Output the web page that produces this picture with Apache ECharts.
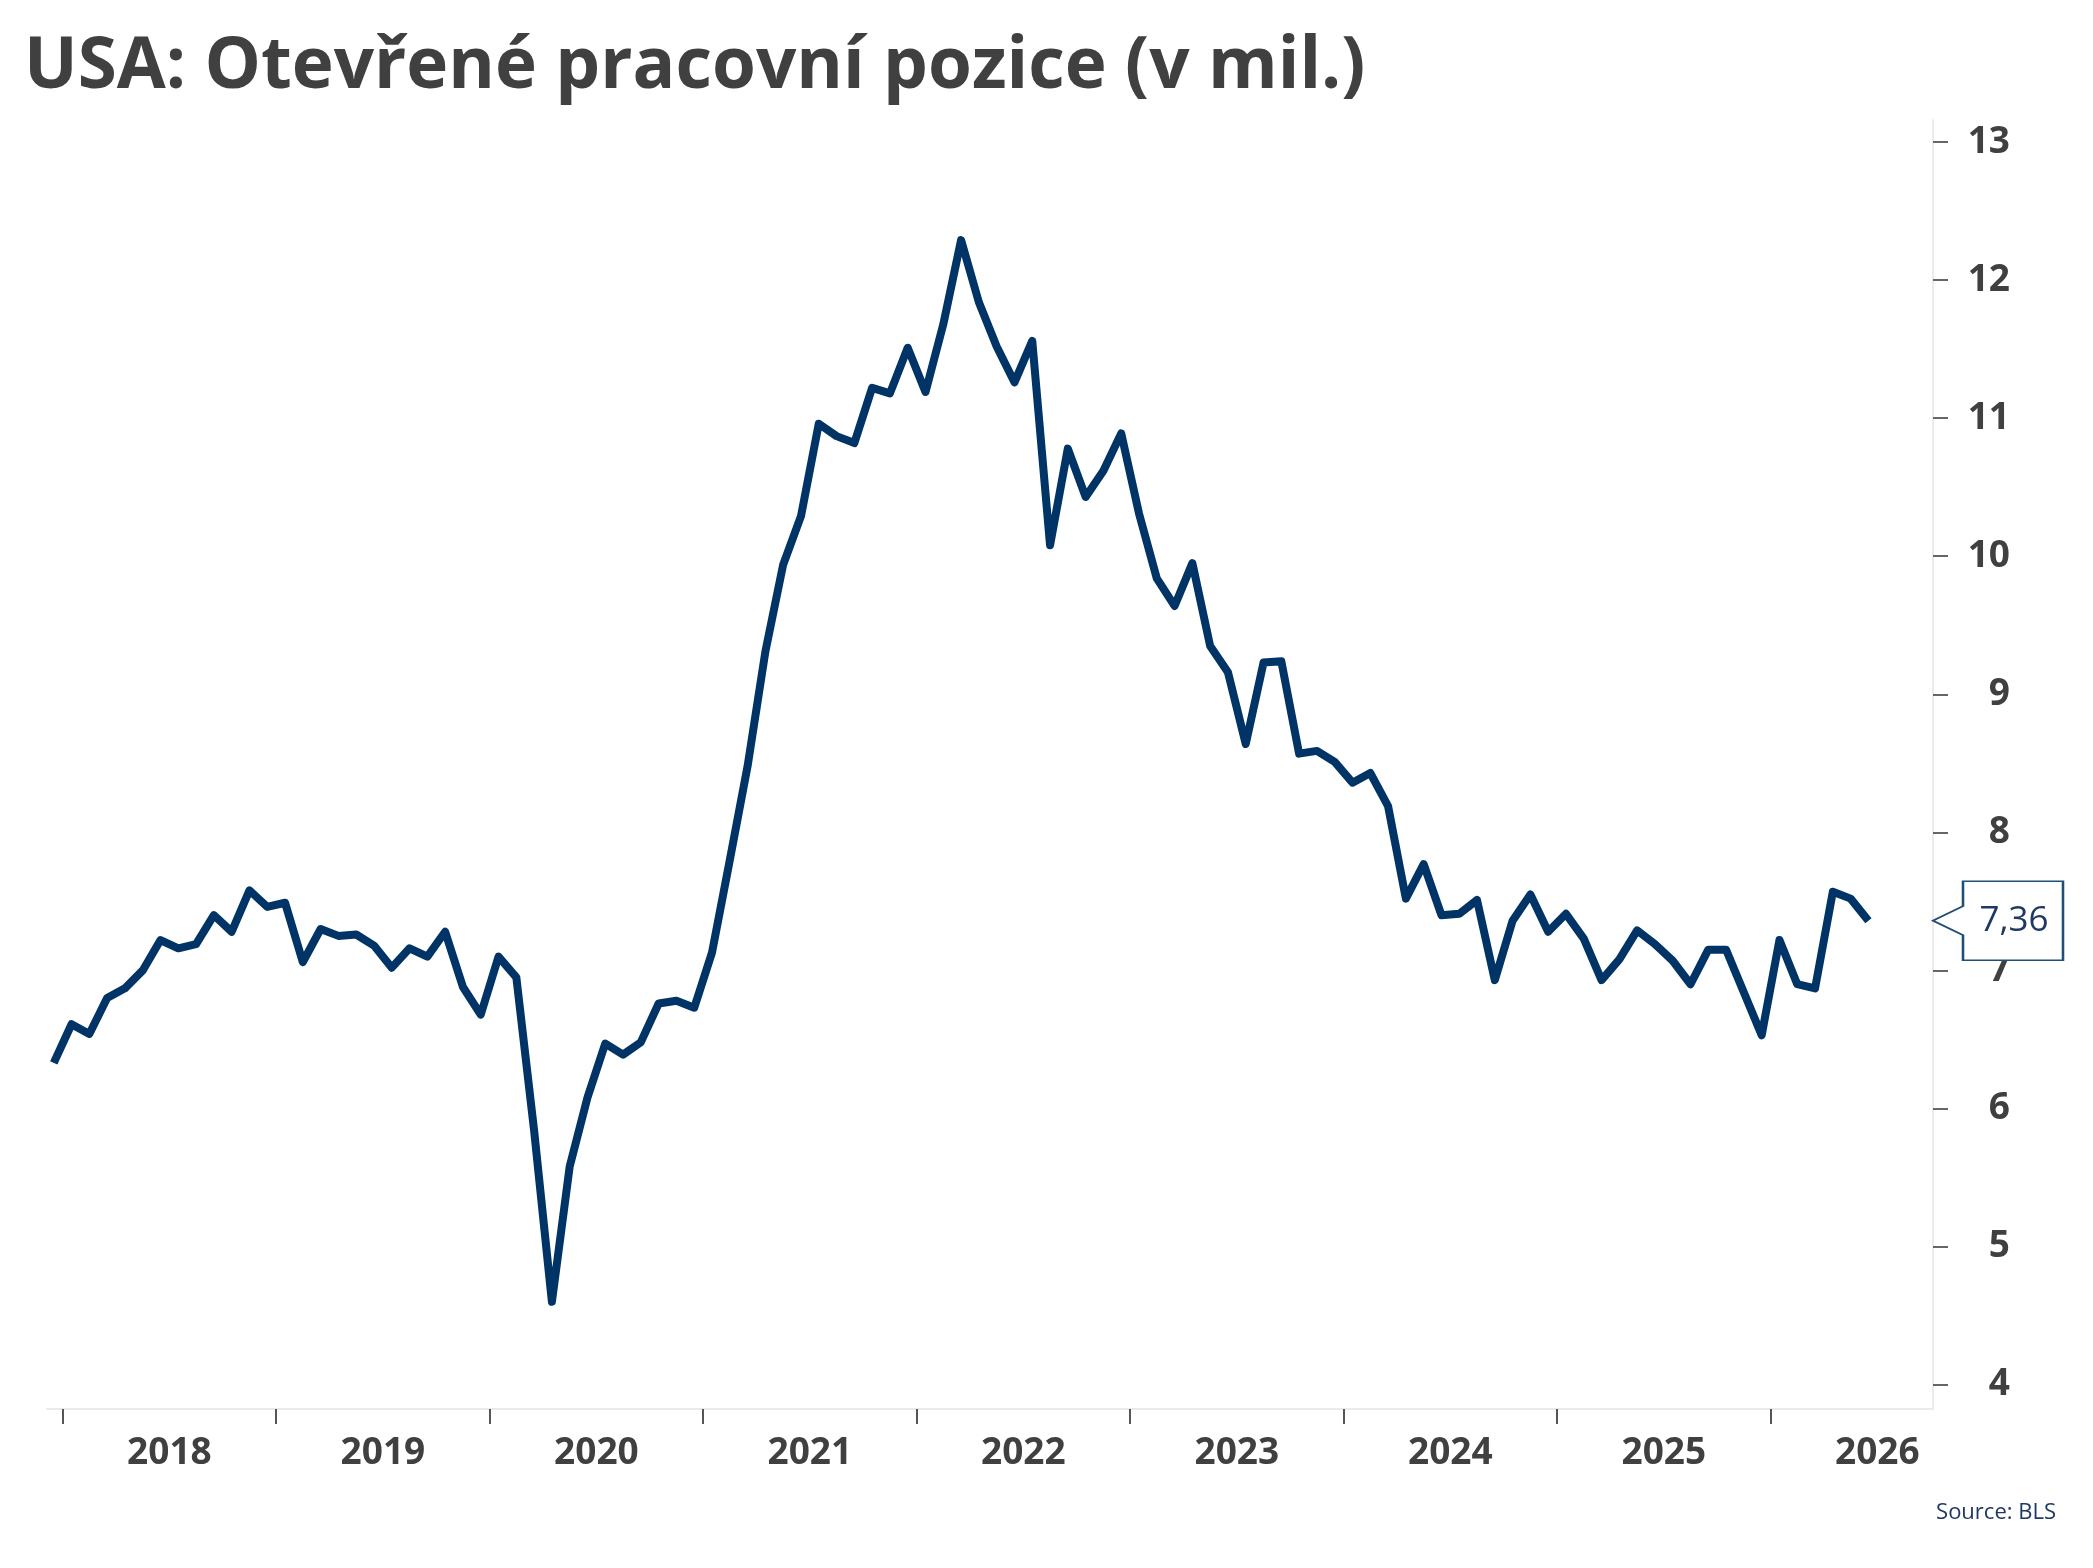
<!DOCTYPE html>
<html>
<head>
<meta charset="utf-8">
<script src="https://cdn.jsdelivr.net/npm/echarts@6/dist/echarts.min.js"></script>
<style>
  html, body { margin: 0; padding: 0; background: #fff; }
  #chart { width: 2093px; height: 1568px; }
</style>
</head>
<body>
<div id="chart"></div>
<script>
// first observation is Dec 2017, one value per month
var firstYear = 2017;
var firstMonth = 12;
var openings = [
  6.33,
  6.61, 6.54, 6.80, 6.87, 7.00, 7.22, 7.16, 7.19, 7.40, 7.28, 7.58, 7.46,
  7.49, 7.06, 7.30, 7.25, 7.26, 7.18, 7.02, 7.16, 7.10, 7.28, 6.88, 6.68,
  7.10, 6.95, 5.84, 4.60, 5.58, 6.08, 6.47, 6.39, 6.48, 6.76, 6.78, 6.73,
  7.13, 7.80, 8.48, 9.31, 9.94, 10.29, 10.96, 10.87, 10.82, 11.22, 11.18, 11.51,
  11.19, 11.68, 12.29, 11.84, 11.52, 11.26, 11.56, 10.08, 10.78, 10.43, 10.62, 10.89,
  10.31, 9.84, 9.64, 9.95, 9.35, 9.16, 8.64, 9.23, 9.24, 8.57, 8.59, 8.51,
  8.36, 8.43, 8.19, 7.52, 7.77, 7.40, 7.41, 7.51, 6.93, 7.36, 7.55, 7.28,
  7.41, 7.23, 6.93, 7.08, 7.29, 7.19, 7.07, 6.90, 7.15, 7.15, 6.84, 6.53,
  7.22, 6.90, 6.87, 7.57, 7.52, 7.36
];
var years = [2018, 2019, 2020, 2021, 2022, 2023, 2024, 2025, 2026];
var yTicks = [4, 5, 6, 7, 8, 9, 10, 11, 12, 13];

var navy = '#003366';
var grey = '#404040';
var font = 'Open Sans';

// x = months since Jan of the first tick year, points sit mid-month
var baseYear = years[0];
var points = openings.map(function (v, k) {
  var m = (firstYear - baseYear) * 12 + (firstMonth - 1) + k;
  return [m + 0.5, v];
});
var yearStarts = years.map(function (y) { return (y - baseYear) * 12; });
var yearMids = years.map(function (y) { return (y - baseYear) * 12 + 6; });
var last = points[points.length - 1];
var xMin = -0.88, xMax = 105.13;

var chart = echarts.init(document.getElementById('chart'));
chart.setOption({
  animation: false,
  backgroundColor: '#fff',
  title: [{
    text: 'USA: Otevřené pracovní pozice (v mil.)',
    left: 24, top: 32, padding: 0,
    textStyle: { fontFamily: font, fontWeight: 'bold', fontSize: 71, color: grey }
  }, {
    text: 'Source: BLS',
    right: 37, top: 1502, padding: 0,
    textStyle: { fontFamily: font, fontWeight: 'normal', fontSize: 22, color: '#1f3864' }
  }],
  grid: { left: 47, right: 160, top: 120, bottom: 159 },
  xAxis: {
    type: 'value',
    min: xMin, max: xMax,
    splitLine: { show: false },
    axisLine: { show: true, onZero: false, lineStyle: { color: '#ebebeb', width: 2 } },
    axisTick: { show: true, customValues: yearStarts, length: 15, lineStyle: { color: '#555', width: 2 } },
    axisLabel: {
      customValues: yearMids,
      margin: 26,
      fontFamily: font, fontWeight: 'bold', fontSize: 37, color: grey,
      formatter: function (v) { return String(baseYear + Math.round((v - 6) / 12)); }
    }
  },
  yAxis: {
    type: 'value',
    position: 'right',
    min: 3.823, max: 13.16,
    splitLine: { show: false },
    axisLine: { show: true, onZero: false, lineStyle: { color: '#ebebeb', width: 2 } },
    axisTick: { show: true, customValues: yTicks, length: 15, lineStyle: { color: '#666', width: 2 } },
    axisLabel: {
      customValues: yTicks,
      align: 'right', margin: 77,
      fontFamily: font, fontWeight: 'bold', fontSize: 37, color: grey
    }
  },
  series: [{
    type: 'line',
    data: points,
    symbol: 'none',
    lineStyle: { color: navy, width: 8, join: 'round' },
    markPoint: {
      silent: true,
      symbol: 'path://M0 39.5 L30 25 L30 0 L130 0 L130 79 L30 79 L30 54 Z',
      symbolSize: [130, 79],
      symbolOffset: [65, 0],
      itemStyle: { color: '#fff', borderColor: '#1f4e79', borderWidth: 2 },
      label: {
        show: true,
        position: 'inside',
        offset: [16, 0],
        fontFamily: font, fontSize: 35, color: '#1f3864',
        formatter: function () { return last[1].toFixed(2).replace('.', ','); }
      },
      data: [{ coord: [xMax, last[1]] }]
    }
  }]
});
</script>
</body>
</html>
